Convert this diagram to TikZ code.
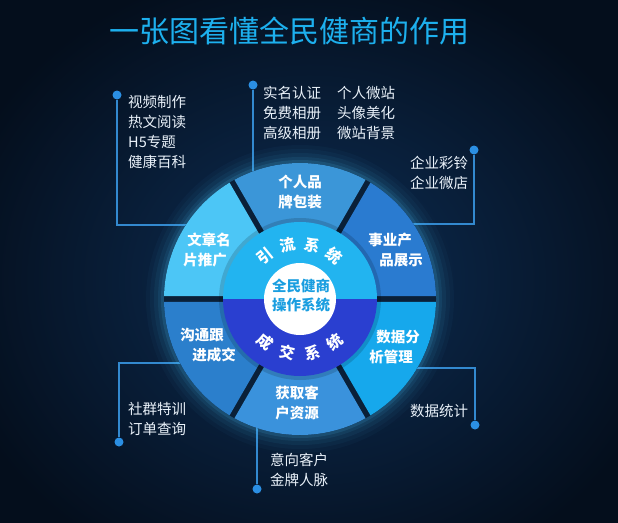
\documentclass[tikz,border=0pt]{standalone}
\usepackage{fontspec}
\setmainfont{Noto Sans CJK SC}
\usetikzlibrary{calc}
\definecolor{bgmid}{HTML}{0D2E55}
\definecolor{bgedge}{HTML}{040E1C}
\definecolor{titlec}{HTML}{1DB0EE}
\definecolor{linec}{HTML}{3389CF}
\definecolor{dotc}{HTML}{2B8FE3}
\definecolor{txtc}{HTML}{EAF2FA}
\definecolor{segA}{HTML}{3B96D8}
\definecolor{segB}{HTML}{2A7BD0}
\definecolor{segC}{HTML}{16A8EC}
\definecolor{segD}{HTML}{3A92DC}
\definecolor{segE}{HTML}{2B7FCC}
\definecolor{segF}{HTML}{4CC6F6}
\definecolor{ringtop}{HTML}{22B4F0}
\definecolor{ringbot}{HTML}{2A3FD0}
\definecolor{centc}{HTML}{1A9EE0}
\definecolor{glowc}{HTML}{4FC8FF}
\definecolor{gapc}{HTML}{0A2038}
\newcommand\mysector[2]{%
  \pgfmathsetmacro\aA{#2-30+1.2}\pgfmathsetmacro\aB{#2+30-1.2}%
  \pgfmathsetmacro\bA{#2-30+2.3}\pgfmathsetmacro\bB{#2+30-2.3}%
  \fill[#1] (\aA:136pt) arc[start angle=\aA, end angle=\aB, radius=136pt]
    -- (\bB:70pt) arc[start angle=\bB, end angle=\bA, radius=70pt] -- cycle;}
\begin{document}
\begin{tikzpicture}[x=1pt,y=-1pt,
  seglabel/.style={text=white, font=\fontsize{14.5}{17}\selectfont\bfseries, inner sep=0pt},
  ringchar/.style={text=white, font=\fontsize{15.5}{17}\selectfont\bfseries, inner sep=0pt},
  callout/.style={text=txtc, font=\fontsize{14.5}{19.7}\selectfont, align=left, anchor=west, inner sep=0pt},
  dotnode/.style={circle, fill=dotc, minimum size=9pt, inner sep=0pt},
  conn/.style={draw=linec, line width=1.1pt}]
\useasboundingbox (0,0) rectangle (618,522);
\shade[inner color=bgmid, outer color=bgedge] (-60,-40) rectangle (678,600);

% title
\node[text=titlec, font=\fontsize{30}{34}\selectfont, inner sep=0pt] (title) at (289,31) {一张图看懂全民健商的作用};

% callout lines (drawn before ring so they hide under segments)
\node[dotnode] (d1) at (117,95) {};
\coordinate (e1) at (117,225);
\coordinate (f1) at (186,225);
\draw[conn] (d1) -- (e1) -- (f1);
\node[dotnode] (d2) at (253,85) {};
\coordinate (f2) at (253,172);
\draw[conn] (d2) -- (f2);
\node[dotnode] (d3) at (474,150) {};
\coordinate (e3) at (474,224);
\coordinate (f3) at (410,224);
\draw[conn] (d3) -- (e3) -- (f3);
\node[dotnode] (d4) at (475,425) {};
\coordinate (e4) at (475,368);
\coordinate (f4) at (414,368);
\draw[conn] (d4) -- (e4) -- (f4);
\node[dotnode] (d5) at (119,442) {};
\coordinate (e5) at (119,363);
\coordinate (f5) at (182,363);
\draw[conn] (d5) -- (e5) -- (f5);
\node[dotnode] (d6) at (257,489) {};
\coordinate (f6) at (257,426);
\draw[conn] (d6) -- (f6);

% callout texts
\node[callout] (c1) at (128,132) {视频制作\\热文阅读\\H5专题\\健康百科};
\node[callout] (c2a) at (263,113) {实名认证\\免费相册\\高级相册};
\node[callout] (c2b) at (337,113) {个人微站\\头像美化\\微站背景};
\node[callout] (c3) at (410,173) {企业彩铃\\企业微店};
\node[callout] (c4) at (410,411) {数据统计};
\node[callout] (c5) at (128,419) {社群特训\\订单查询};
\node[callout] (c6) at (270,470) {意向客户\\金牌人脉};

% ring
\begin{scope}[shift={(300,299)}]
  \foreach \r/\o in {154pt/0.03,150pt/0.04,146pt/0.06,142pt/0.08,139pt/0.12}
    \fill[glowc, opacity=\o] (0,0) circle[radius=\r];
  \fill[gapc] (0,0) circle[radius=136pt];
  \mysector{segA}{90}
  \mysector{segB}{30}
  \mysector{segC}{-30}
  \mysector{segD}{-90}
  \mysector{segE}{-150}
  \mysector{segF}{150}
  \fill[black, opacity=0.15] (0,0) circle[radius=81pt];
  \begin{scope}
    \clip (-80pt,0pt) rectangle (80pt,80pt);
    \fill[ringtop] (0,0) circle[radius=77pt];
  \end{scope}
  \begin{scope}
    \clip (-80pt,0pt) rectangle (80pt,-80pt);
    \fill[ringbot] (0,0) circle[radius=77pt];
  \end{scope}
  \fill[white] (0,0) circle[radius=36pt];
  % ring texts
  \node[ringchar, rotate=39] (r1) at (129:55pt) {引};
  \node[ringchar, rotate=13] (r2) at (103:55pt) {流};
  \node[ringchar, rotate=-13] (r3) at (77:55pt) {系};
  \node[ringchar, rotate=-39] (r4) at (51:55pt) {统};
  \node[ringchar, rotate=-39] (s1) at (-129:55pt) {成};
  \node[ringchar, rotate=-13] (s2) at (-103:55pt) {交};
  \node[ringchar, rotate=13] (s3) at (-77:55pt) {系};
  \node[ringchar, rotate=39] (s4) at (-51:55pt) {统};
\end{scope}

% center text
\node[text=centc, font=\fontsize{14.5}{17}\selectfont\bfseries, inner sep=0pt] (m1) at (301,286) {全民健商};
\node[text=centc, font=\fontsize{14.5}{17}\selectfont\bfseries, inner sep=0pt] (m2) at (301,305) {操作系统};

% segment labels
\node[seglabel] (a1) at (300,182) {个人品};
\node[seglabel] (a2) at (300,202) {牌包装};
\node[seglabel] (b1) at (390,240) {事业产};
\node[seglabel] (b2) at (401,260) {品展示};
\node[seglabel] (g1) at (209,240) {文章名};
\node[seglabel] (g2) at (205,260) {片推广};
\node[seglabel] (h1) at (202,335) {沟通跟};
\node[seglabel] (h2) at (214,355) {进成交};
\node[seglabel] (k1) at (398,337) {数据分};
\node[seglabel] (k2) at (391,357) {析管理};
\node[seglabel] (p1) at (297,393) {获取客};
\node[seglabel] (p2) at (297,413) {户资源};
\end{tikzpicture}
\end{document}
